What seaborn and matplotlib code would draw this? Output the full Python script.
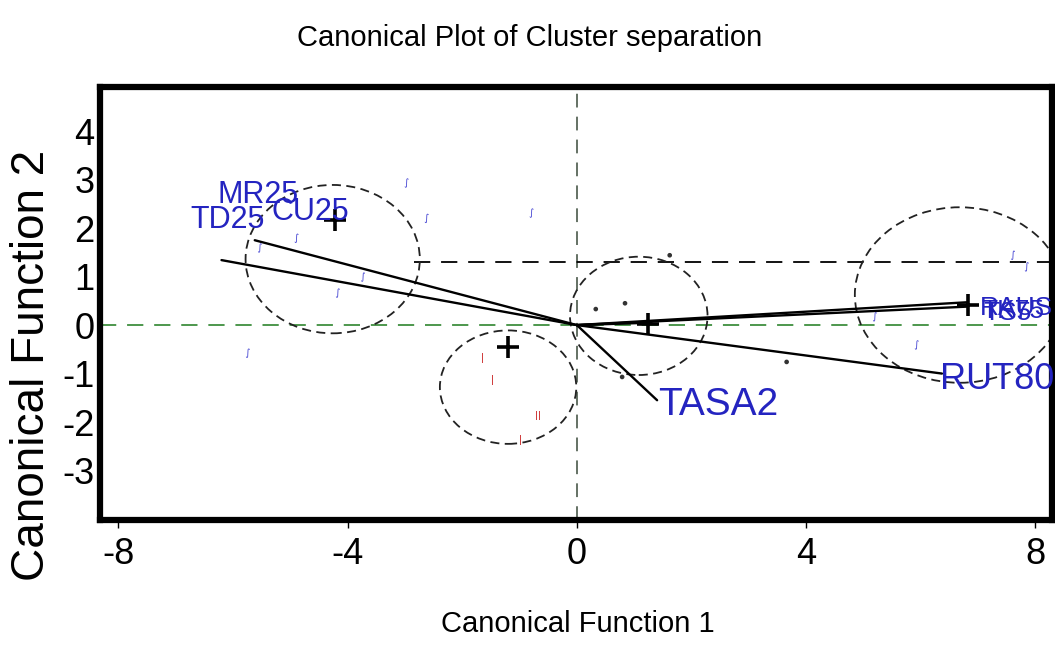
import matplotlib
matplotlib.use("Agg")
import matplotlib.pyplot as plt
from matplotlib.patches import Ellipse
import seaborn as sns
import pandas as pd
import numpy as np

# ---------------- data ----------------
# observations (canonical scores) per cluster
c1_x = [-2.97, -2.62, -4.89, -5.53, -3.73, -4.17, -5.74, -0.79]
c1_y = [2.93, 2.20, 1.79, 1.59, 0.99, 0.66, -0.58, 2.31]
c2_x = [-1.64, -1.47, -1.08, -0.87, -0.59, -0.70, -0.65, -0.73, -0.99]
c2_y = [-0.68, -1.13, -1.40, -1.44, -1.34, -1.86, -1.86, -2.64, -2.37]
c3_x = [0.33, 0.84, 0.79, 1.62, 3.66]
c3_y = [0.33, 0.45, -1.07, 1.44, -0.76]
c4_x = [7.61, 7.85, 5.20, 5.93]
c4_y = [1.44, 1.20, 0.17, -0.41]

# cluster centroids
centroid_x = [-4.22, -1.20, 1.24, 6.82]
centroid_y = [2.16, -0.45, 0.02, 0.41]

# confidence ellipses (centre, semi-axes)
ell_x = [-4.26, -1.20, 1.08, 6.68]
ell_y = [1.36, -1.28, 0.19, 0.62]
ell_rx = [1.52, 1.19, 1.20, 1.83]
ell_ry = [1.53, 1.17, 1.22, 1.81]

# variable vectors (biplot)
vec_x = [-6.20, -5.62, 6.80, 6.80, 6.37, 1.40, 1.30]
vec_y = [1.34, 1.75, 0.47, 0.38, -1.00, -1.55, 0.05]

# vector labels
lab_names = ["TD25", "MR25", "CU25", "TASA2", "RUT8000", "RAUS", "TK75", "TS5"]
lab_x = [-6.75, -6.27, -5.32, 1.41, 6.33, 7.03, 7.06, 7.10]
lab_y = [2.16, 2.68, 2.33, -1.65, -1.13, 0.36, 0.30, 0.24]

ref_y = 1.30        # dashed reference line
ref_x_start = -2.85

xticks = [-8, -4, 0, 4, 8]
yticks = [-3, -2, -1, 0, 1, 2, 3, 4]

title = "Canonical Plot of Cluster separation"
xlabel = "Canonical Function 1"
ylabel = "Canonical Function 2"

# ---------------- style ----------------
sns.set_theme(style="white")
FONT = ["Liberation Sans", "DejaVu Sans"]
plt.rcParams["font.family"] = FONT
plt.rcParams["text.color"] = "black"
plt.rcParams["axes.labelcolor"] = "black"
plt.rcParams["xtick.color"] = "black"
plt.rcParams["ytick.color"] = "black"

BLUE = "#2424c0"

fig = plt.figure(figsize=(10.55, 6.45), dpi=100)
fig.patch.set_facecolor("white")
ax = fig.add_axes([100 / 1055, 1 - 520 / 645, 952 / 1055, 433 / 645])
ax.set_facecolor("white")

ax.set_xlim(-8.32, 8.29)
ax.set_ylim(-4.02, 4.91)

# reference axes lines
ax.axhline(0, color="#3f8f3f", lw=1.3, dashes=(9, 6), zorder=1)
ax.axvline(0, color="#3a4a3a", lw=1.1, dashes=(9, 6), zorder=1)
ax.plot([ref_x_start, 8.29], [ref_y, ref_y], color="black", lw=1.3, dashes=(9, 6), zorder=1)

# ellipses
for cx, cy, rx, ry in zip(ell_x, ell_y, ell_rx, ell_ry):
    ax.add_patch(Ellipse((cx, cy), 2 * rx, 2 * ry, fill=False, edgecolor="#222222",
                         lw=1.3, linestyle=(0, (5, 3)), zorder=2))

# vectors from origin
for vx, vy in zip(vec_x, vec_y):
    ax.plot([0, vx], [0, vy], color="black", lw=1.7, zorder=3)

# observations
df = pd.concat([
    pd.DataFrame({"x": c1_x, "y": c1_y, "cluster": "1"}),
    pd.DataFrame({"x": c2_x, "y": c2_y, "cluster": "2"}),
    pd.DataFrame({"x": c3_x, "y": c3_y, "cluster": "3"}),
    pd.DataFrame({"x": c4_x, "y": c4_y, "cluster": "4"}),
])
palette = {"1": "#3a3ad0", "2": "#d04040", "3": "#333333", "4": "#3a3ad0"}
markers = {"1": r"$\int$", "2": r"$|$", "3": ".", "4": r"$\int$"}
sns.scatterplot(data=df, x="x", y="y", hue="cluster", style="cluster",
                palette=palette, markers=markers, s=45, linewidth=0,
                legend=False, ax=ax, zorder=4)

# centroids
ax.scatter(centroid_x, centroid_y, marker="+", s=260, color="black", linewidths=2.6, zorder=5)

# labels
for i, (name, lx, ly) in enumerate(zip(lab_names, lab_x, lab_y)):
    if i < 3:
        size = 22
    elif name == "TASA2":
        size = 28
    elif name == "RUT8000":
        size = 26
    else:
        size = 19
    ax.text(lx, ly, name, color=BLUE, fontsize=size, ha="left", va="center",
            zorder=6, clip_on=False)

# axes decoration
for sp in ax.spines.values():
    sp.set_visible(True)
    sp.set_color("black")
    sp.set_linewidth(4.5)

ax.set_xticks(xticks)
ax.set_yticks(yticks)
ax.set_xticklabels([str(t) for t in xticks], fontsize=26)
ax.set_yticklabels([str(t) for t in yticks], fontsize=26)
ax.tick_params(axis="x", direction="out", length=6, width=1, pad=6, bottom=True)
ax.tick_params(axis="y", length=0, pad=4, left=True)

ax.set_xlabel(xlabel, fontsize=21)
ax.xaxis.set_label_coords((578 - 100) / 952, (520 - 610) / 433)
ax.set_ylabel(ylabel, fontsize=33)
ax.yaxis.set_label_coords((54 - 100) / 952, (520 - 365) / 433)

fig.text(530 / 1055, 1 - 38 / 645, title, fontsize=21, ha="center", va="center")

fig.savefig("out.png", dpi=100, facecolor="white")
